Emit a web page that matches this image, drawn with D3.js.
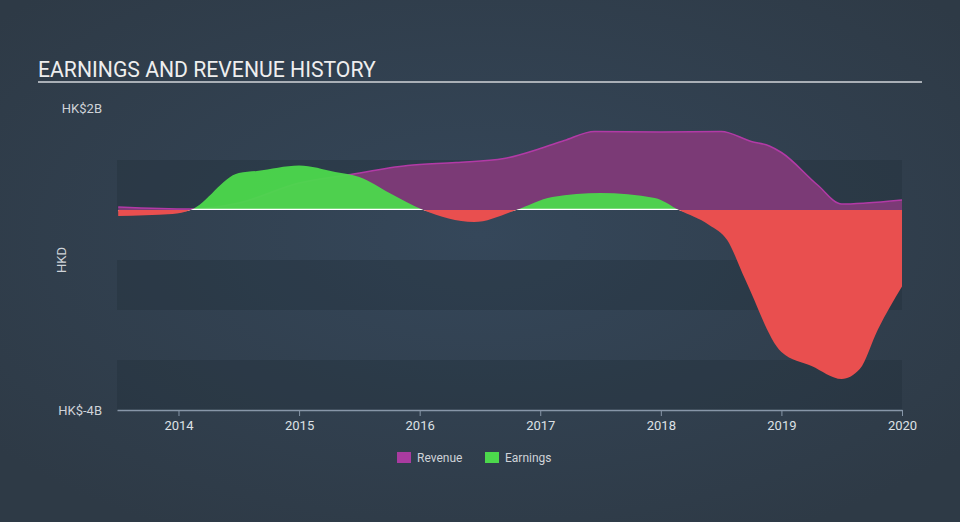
<!DOCTYPE html>
<html>
<head>
<meta charset="utf-8">
<script src="https://cdnjs.cloudflare.com/ajax/libs/d3/7.8.5/d3.min.js"></script>
<style>
  html, body { margin: 0; padding: 0; background: #2f3c4a; }
  svg { display: block; font-family: Roboto, "Open Sans", sans-serif; }
</style>
</head>
<body>
<div id="chart"></div>
<script>
// revenue, HK$ billions
var revenueDates = [2013.5, 2014.1, 2014.5, 2015.0, 2015.4, 2015.9, 2016.3, 2016.7, 2017.0, 2017.2, 2017.45, 2018.0, 2018.5, 2018.75, 2018.9, 2019.0, 2019.3, 2019.5, 2019.7, 2020.0];
var revenueValues = [0.06, 0.02, 0.14, 0.54, 0.70, 0.89, 0.95, 1.03, 1.23, 1.39, 1.57, 1.56, 1.57, 1.37, 1.28, 1.15, 0.50, 0.12, 0.14, 0.20];

// earnings, HK$ billions
var earningsDates = [2013.5, 2013.95, 2014.1, 2014.5, 2014.65, 2015.0, 2015.3, 2015.5, 2015.75, 2016.03, 2016.45, 2016.8, 2017.1, 2017.5, 2017.95, 2018.15, 2018.4, 2018.55, 2018.7, 2019.0, 2019.25, 2019.5, 2019.65, 2019.8, 2020.0];
var earningsValues = [-0.12, -0.08, 0, 0.74, 0.78, 0.89, 0.76, 0.66, 0.34, 0, -0.24, 0, 0.26, 0.34, 0.24, 0, -0.30, -0.60, -1.39, -2.84, -3.12, -3.38, -3.18, -2.39, -1.53];

var yearTicks = [2014, 2015, 2016, 2017, 2018, 2019, 2020];
var bandRanges = [[1, 0], [-1, -2], [-3, -4]];

var W = 960, H = 522;
var svg = d3.select("#chart").append("svg").attr("width", W).attr("height", H);
var defs = svg.append("defs");

var bg = defs.append("radialGradient").attr("id", "bg").attr("cx", "50%").attr("cy", "45%").attr("r", "65%");
bg.append("stop").attr("offset", "0%").attr("stop-color", "#35475a");
bg.append("stop").attr("offset", "100%").attr("stop-color", "#2e3a46");
svg.append("rect").attr("width", W).attr("height", H).attr("fill", "url(#bg)");

var box = {xmin: 117, xmax: 902, ymin: 110, ymax: 410};
var x = d3.scaleLinear().domain([2013.49, 2020.0]).range([box.xmin, box.xmax]);
var y = d3.scaleLinear().domain([-4, 2]).range([box.ymax, box.ymin]);

// title
svg.append("text")
    .attr("x", 38).attr("y", 77)
    .attr("fill", "#eeeeee")
    .style("font-size", "21.2px")
    .text("EARNINGS AND REVENUE HISTORY");
svg.append("line")
    .attr("x1", 38).attr("x2", 922).attr("y1", 82).attr("y2", 82)
    .attr("stroke", "#a9afb6").attr("stroke-width", 2);

// bands
svg.selectAll(".band")
    .data(bandRanges)
    .enter().append("rect")
        .attr("class", "band")
        .attr("x", box.xmin)
        .attr("width", box.xmax - box.xmin)
        .attr("y", function(d) { return y(d[0]); })
        .attr("height", function(d) { return y(d[1]) - y(d[0]); })
        .attr("fill", "#1f2a35")
        .attr("opacity", 0.3);

// y labels
svg.append("text").attr("x", 102).attr("y", 113).attr("text-anchor", "end")
    .attr("fill", "#cfd3d8").style("font-size", "13px").text("HK$2B");
svg.append("text").attr("x", 102).attr("y", 415).attr("text-anchor", "end")
    .attr("fill", "#cfd3d8").style("font-size", "13px").text("HK$-4B");
svg.append("text")
    .attr("transform", "translate(66,260) rotate(-90)")
    .attr("text-anchor", "middle")
    .attr("fill", "#cfd3d8").style("font-size", "13px").text("HKD");

var curve = d3.curveMonotoneX;

// revenue
var revenue = revenueDates.map(function(d, i) { return [d, revenueValues[i]]; });
svg.append("path")
    .datum(revenue)
    .attr("fill", "#7b3a76")
    .attr("d", d3.area().curve(curve)
        .x(function(d) { return x(d[0]); })
        .y0(y(0))
        .y1(function(d) { return y(d[1]); }));
svg.append("path")
    .datum(revenue)
    .attr("fill", "none")
    .attr("stroke", "#b23aa6")
    .attr("stroke-width", 1.5)
    .attr("d", d3.line().curve(curve)
        .x(function(d) { return x(d[0]); })
        .y(function(d) { return y(d[1]); }));

// earnings, split at zero
defs.append("clipPath").attr("id", "above")
    .append("rect").attr("x", box.xmin).attr("y", 0).attr("width", box.xmax - box.xmin).attr("height", y(0));
defs.append("clipPath").attr("id", "below")
    .append("rect").attr("x", box.xmin).attr("y", y(0)).attr("width", box.xmax - box.xmin).attr("height", H - y(0));

var earnings = earningsDates.map(function(d, i) { return [d, earningsValues[i]]; });
var earnArea = d3.area().curve(curve)
    .x(function(d) { return x(d[0]); })
    .y0(y(0))
    .y1(function(d) { return y(d[1]); });

defs.append("clipPath").attr("id", "earnShape")
    .append("path").datum(earnings).attr("d", earnArea);

svg.append("path").datum(earnings)
    .attr("clip-path", "url(#above)")
    .attr("fill", "#4cd84c").attr("fill-opacity", 0.95)
    .attr("d", earnArea);

// zero line, only shows under positive earnings
svg.append("line")
    .attr("clip-path", "url(#earnShape)")
    .attr("x1", box.xmin).attr("x2", box.xmax)
    .attr("y1", y(0)).attr("y2", y(0))
    .attr("stroke", "#ffffff").attr("stroke-width", 2.5);

svg.append("path").datum(earnings)
    .attr("clip-path", "url(#below)")
    .attr("fill", "#e94f4f")
    .attr("d", earnArea);

// x axis
var xAxis = svg.append("g")
    .attr("transform", "translate(0," + box.ymax + ")")
    .call(d3.axisBottom(x).tickValues(yearTicks).tickFormat(d3.format("d")).tickSize(6).tickSizeOuter(0));
xAxis.select(".domain").attr("stroke", "#8796a8").attr("stroke-width", 1.5);
xAxis.selectAll(".tick line").attr("stroke", "#8796a8");
xAxis.selectAll(".tick text")
    .attr("fill", "#dde1e5")
    .style("font-size", "13px")
    .style("font-family", "Roboto, sans-serif")
    .attr("dy", "0.85em");

// legend
var legendItems = [["Revenue", "#a93ba0", 397], ["Earnings", "#4cd84c", 485]];
var legend = svg.selectAll(".legend")
    .data(legendItems)
    .enter().append("g")
        .attr("class", "legend")
        .attr("transform", function(d) { return "translate(" + d[2] + ",452)"; });
legend.append("rect").attr("width", 14).attr("height", 11).attr("fill", function(d) { return d[1]; });
legend.append("text").attr("x", 20).attr("y", 10)
    .attr("fill", "#cfd3d8").style("font-size", "12px")
    .text(function(d) { return d[0]; });
</script>
</body>
</html>
